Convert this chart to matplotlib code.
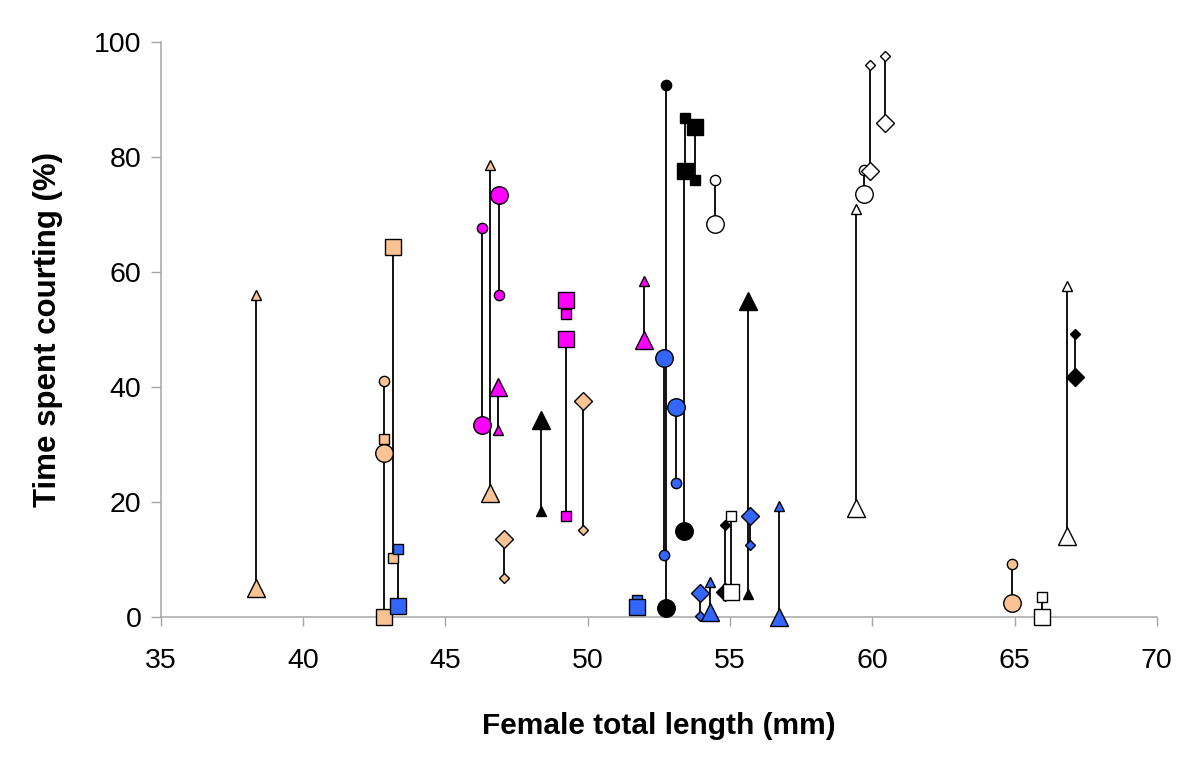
import matplotlib
matplotlib.use('Agg')
import matplotlib.pyplot as plt

plt.rcParams['font.family'] = ['Liberation Sans', 'DejaVu Sans']

# ---- data ----
group_colour = ['peach', 'peach', 'peach', 'peach', 'peach', 'peach', 'peach', 'peach',
                'magenta', 'magenta', 'magenta', 'magenta', 'magenta', 'magenta',
                'blue', 'blue', 'blue', 'blue', 'blue', 'blue', 'blue', 'blue',
                'black', 'black', 'black', 'black', 'black', 'black', 'black', 'black',
                'white', 'white', 'white', 'white', 'white', 'white', 'white', 'white']
group_marker = ['triangle', 'triangle', 'circle', 'circle', 'square', 'square', 'diamond', 'diamond',
                'circle', 'circle', 'triangle', 'triangle', 'square', 'square',
                'square', 'square', 'circle', 'circle', 'diamond', 'diamond', 'triangle', 'triangle',
                'triangle', 'triangle', 'circle', 'circle', 'square', 'square', 'diamond', 'diamond',
                'circle', 'circle', 'square', 'square', 'triangle', 'triangle', 'diamond', 'diamond']
female_length = [38.36, 46.57, 42.85, 64.90, 42.83, 43.17, 47.05, 49.82,
                 46.29, 46.89, 46.85, 51.98, 49.25, 49.25,
                 43.33, 51.75, 52.67, 53.12, 53.95, 55.70, 54.30, 56.72,
                 48.35, 55.65, 52.77, 53.38, 53.42, 53.76, 54.83, 67.11,
                 54.47, 59.70, 55.05, 65.98, 59.42, 66.84, 59.92, 60.44]
courting_small = [56.0, 78.6, 41.0, 9.2, 31.0, 10.2, 6.8, 15.1,
                  67.6, 56.0, 32.5, 58.4, 52.7, 17.6,
                  11.8, 3.0, 10.8, 23.3, 0.2, 12.6, 6.0, 19.3,
                  18.5, 4.0, 92.6, 77.5, 86.8, 76.0, 16.0, 49.2,
                  76.0, 77.7, 17.5, 3.4, 71.0, 57.5, 96.0, 97.6]
courting_large = [5.0, 21.5, 28.5, 2.5, 0.0, 64.3, 13.5, 37.6,
                  33.4, 73.4, 40.0, 48.2, 55.1, 48.4,
                  1.9, 1.8, 45.0, 36.6, 4.2, 17.5, 0.8, 0.0,
                  34.2, 55.0, 1.6, 15.0, 77.6, 85.2, 4.3, 41.7,
                  68.4, 73.5, 4.3, 0.0, 19.0, 14.0, 77.6, 86.0]

colours = {'peach': '#FAC394', 'magenta': '#FF00FF', 'blue': '#3366FF',
           'black': '#000000', 'white': '#FFFFFF'}
marker_codes = {'triangle': '^', 'circle': 'o', 'square': 's', 'diamond': 'D'}
small_size = {'triangle': 7.4, 'circle': 7.4, 'square': 7.4, 'diamond': 5.2}
large_size = {'triangle': 12.6, 'circle': 12.6, 'square': 12.2, 'diamond': 8.9}

fig = plt.figure(figsize=(12, 7.65), dpi=100)
ax = fig.add_axes([0.134, 0.1935, 0.83, 0.7515])

# connecting lines
for x, ys, yl in zip(female_length, courting_small, courting_large):
    ax.plot([x, x], [ys, yl], color='black', lw=1.3, zorder=2, solid_capstyle='butt')

# small markers
for x, ys, c, m in zip(female_length, courting_small, group_colour, group_marker):
    ax.plot([x], [ys], linestyle='none', marker=marker_codes[m], markersize=small_size[m],
            markerfacecolor=colours[c], markeredgecolor='black', markeredgewidth=1.0,
            zorder=3, clip_on=False)
# large markers
for x, yl, c, m in zip(female_length, courting_large, group_colour, group_marker):
    ax.plot([x], [yl], linestyle='none', marker=marker_codes[m], markersize=large_size[m],
            markerfacecolor=colours[c], markeredgecolor='black', markeredgewidth=1.0,
            zorder=4, clip_on=False)

ax.set_xlim(35, 70)
ax.set_ylim(0, 100)
ax.set_xticks([35, 40, 45, 50, 55, 60, 65, 70])
ax.set_yticks([0, 20, 40, 60, 80, 100])

for side in ['top', 'right']:
    ax.spines[side].set_visible(False)
for side in ['left', 'bottom']:
    ax.spines[side].set_color('#A6A6A6')
    ax.spines[side].set_linewidth(1.1)

ax.tick_params(axis='x', direction='out', length=6.5, width=1.0, color='#A6A6A6',
               labelsize=20.5, pad=16)
ax.tick_params(axis='y', direction='out', length=7, width=1.0, color='#A6A6A6',
               labelsize=20.5, pad=7)

ax.set_xlabel('Female total length (mm)', fontsize=21.5, fontweight='bold', labelpad=27)
ax.set_ylabel('Time spent courting (%)', fontsize=22.5, fontweight='bold', labelpad=22)

fig.savefig('out.png', dpi=100)
